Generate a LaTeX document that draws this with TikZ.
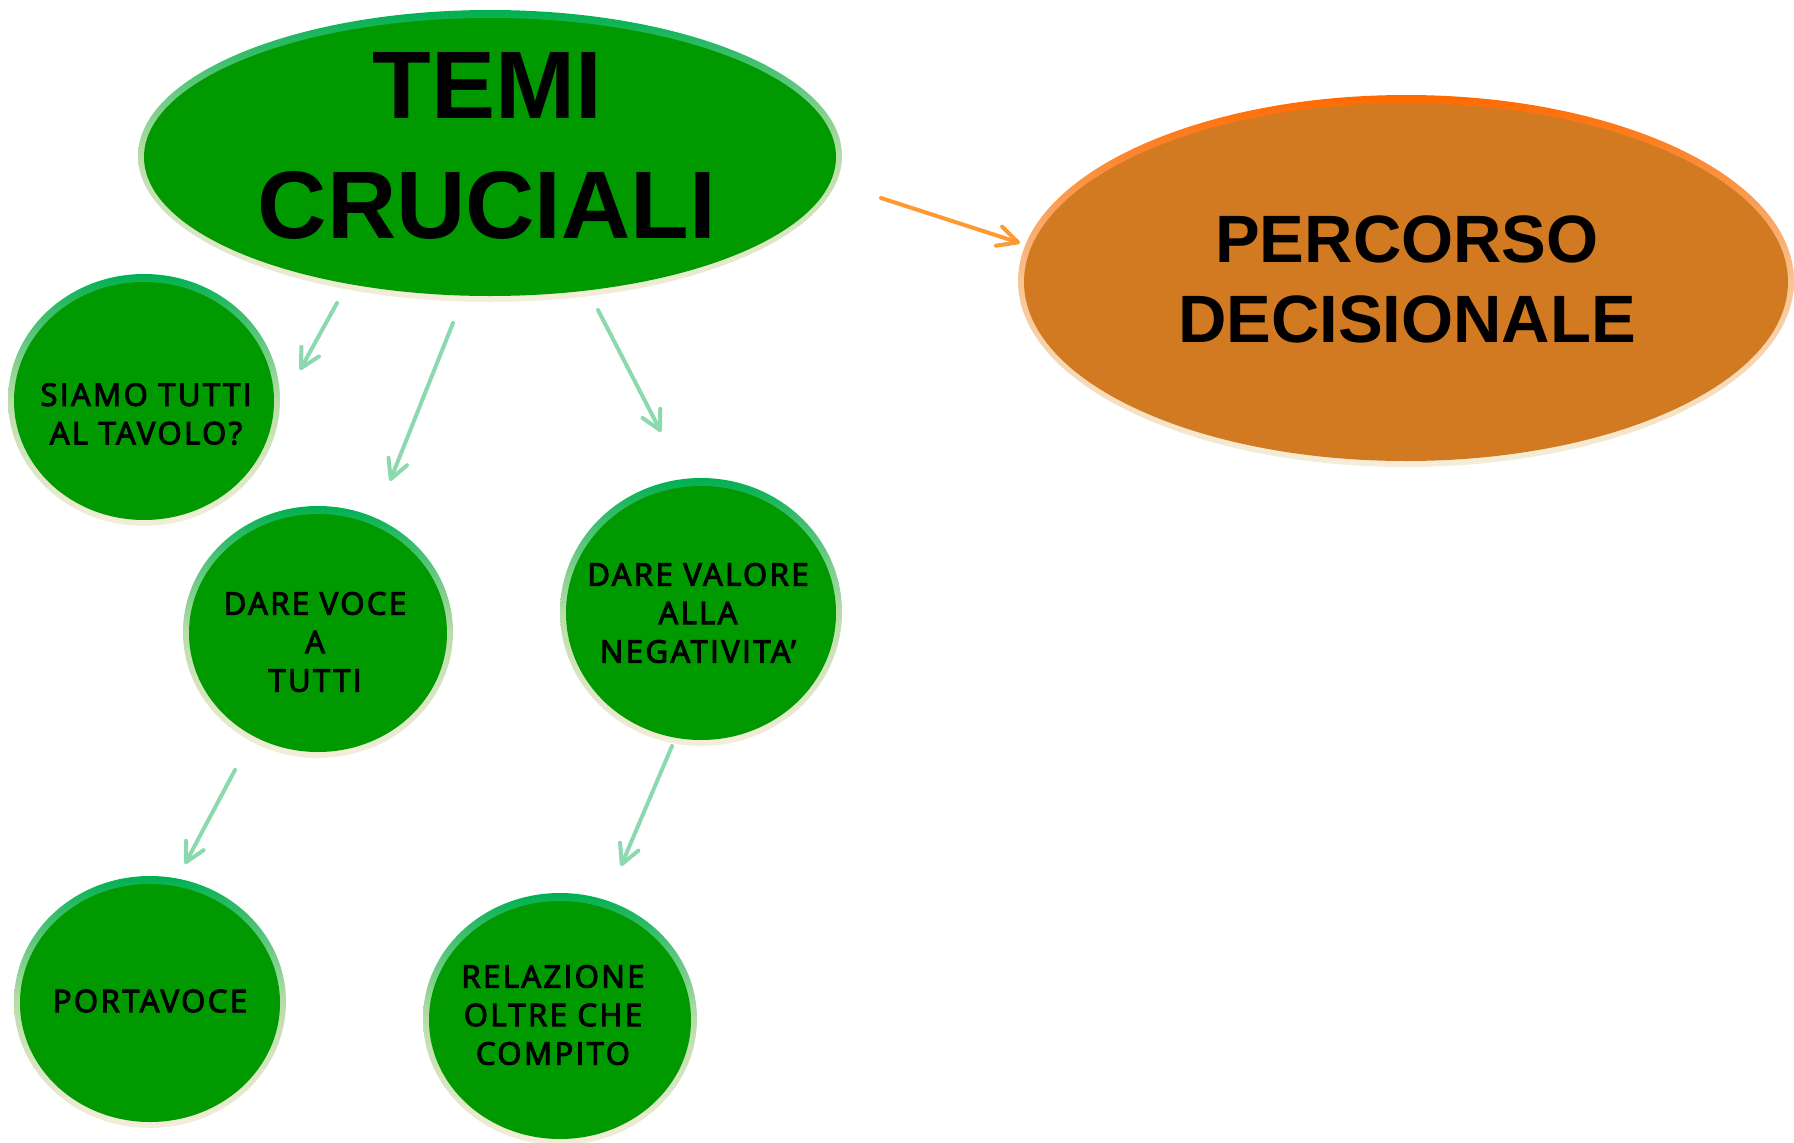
\documentclass[tikz,border=0pt]{standalone}
\usepackage{fontspec}
\setmainfont{Liberation Sans}
\newfontfamily\bubfont{Open Sans}[FakeBold=3.5, LetterSpace=8]
\usetikzlibrary{shapes.geometric,arrows.meta}

\definecolor{leaf}{HTML}{009900}
\definecolor{leafrim}{HTML}{00B050}
\definecolor{leafpale}{HTML}{B8DDA8}
\definecolor{cream}{HTML}{F5EEDA}
\definecolor{rust}{HTML}{D27A22}
\definecolor{rustrim}{HTML}{FF6A00}
\definecolor{peach}{HTML}{F8C492}
\definecolor{mint}{HTML}{8CD9AF}
\definecolor{amber}{HTML}{FF9933}

\tikzset{
  % shaded rim with a solid inner ellipse: width, height, rim top, rim middle, fill
  bubble/.style n args={5}{ellipse, inner sep=0pt, minimum width=#1, minimum height=#2,
    top color=#3, bottom color=cream, middle color=#4,
    path picture={\fill[#5] ([yshift=-1]path picture bounding box.center)
      ellipse [x radius=#1/2-6, y radius=#2/2-7];}},
  greenbub/.style 2 args={bubble={#1}{#2}{leafrim}{leafpale}{leaf}},
  bigtext/.style={font=\bfseries\fontsize{96}{120}\selectfont, align=center, inner sep=0pt},
  midtext/.style={font=\bfseries\fontsize{67}{80}\selectfont, align=center, inner sep=0pt},
  smalltext/.style={font=\bubfont\fontsize{31}{38.5}\selectfont, align=center, inner sep=0pt},
  link/.style={draw=mint, line width=4pt, line cap=round,
    -{Straight Barb[length=19pt, width=20pt, round]}},
  mainlink/.style={draw=amber, line width=4pt, line cap=round,
    -{Straight Barb[length=20pt, width=20pt, round]}},
}

\begin{document}
\begin{tikzpicture}[x=1pt, y=-1pt]
  \useasboundingbox (0,0) rectangle (1794,1143);

  % bubbles
  \node[greenbub={704}{292}] (temi) at (490,156) {};
  \node[bubble={776}{372}{rustrim}{peach}{rust}] (perc) at (1406,281) {};
  \node[greenbub={272}{252}] (siamo) at (144,400) {};
  \node[greenbub={270}{252}] (voce) at (318,632) {};
  \node[greenbub={282}{268}] (valore) at (701,612) {};
  \node[greenbub={272}{252}] (porta) at (150,1002) {};
  \node[greenbub={274}{252}] (rel) at (560,1019) {};

  % labels
  \node[bigtext] (temi-t) at (487,146) {TEMI\\CRUCIALI};
  \node[midtext] (perc-t) at (1407,279) {PERCORSO\\DECISIONALE};
  \node[smalltext] (siamo-t) at (146,414) {SIAMO TUTTI\\AL TAVOLO?};
  \node[smalltext] (voce-t) at (315,642) {DARE VOCE\\A\\TUTTI};
  \node[smalltext] (valore-t) at (698,613) {DARE VALORE\\ALLA\\NEGATIVITA’};
  \node[smalltext] (porta-t) at (150,1001) {PORTAVOCE};
  \node[smalltext] (rel-t) at (553,1015) {RELAZIONE\\OLTRE CHE\\COMPITO};

  % arrow end points
  \coordinate (a1s) at (337,303);  \coordinate (a1e) at (300,370);
  \coordinate (a2s) at (453,323);  \coordinate (a2e) at (390,481);
  \coordinate (a3s) at (598,310);  \coordinate (a3e) at (661,432);
  \coordinate (a4s) at (235,770);  \coordinate (a4e) at (185,864);
  \coordinate (a5s) at (672,746);  \coordinate (a5e) at (621,866);
  \coordinate (a6s) at (881,198);  \coordinate (a6e) at (1020,243);

  % connectors
  \draw[link] (a1s) -- (a1e);
  \draw[link] (a2s) -- (a2e);
  \draw[link] (a3s) -- (a3e);
  \draw[link] (a4s) -- (a4e);
  \draw[link] (a5s) -- (a5e);
  \draw[mainlink] (a6s) -- (a6e);
\end{tikzpicture}
\end{document}
